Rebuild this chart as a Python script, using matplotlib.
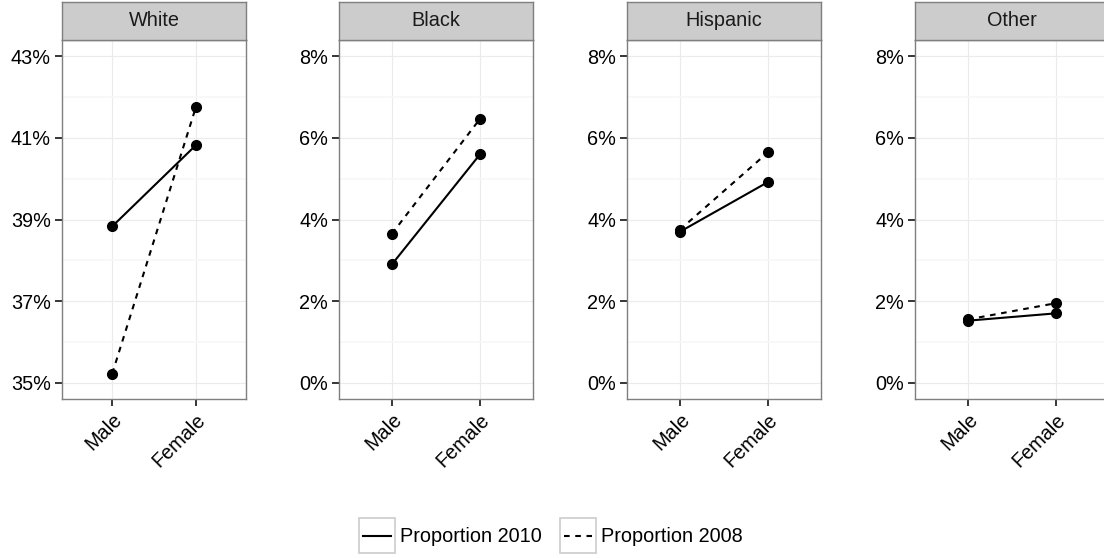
import matplotlib.pyplot as plt
from matplotlib.lines import Line2D
from matplotlib.patches import Rectangle
from matplotlib.ticker import FuncFormatter, MultipleLocator

plt.rcParams['font.family'] = ['Liberation Sans', 'DejaVu Sans']

groups = ["White", "Black", "Hispanic", "Other"]
sexes = ["Male", "Female"]
# values in percent
prop_2010 = {
    "White": [38.83, 40.82],
    "Black": [2.90, 5.60],
    "Hispanic": [3.70, 4.92],
    "Other": [1.52, 1.70],
}
prop_2008 = {
    "White": [35.22, 41.75],
    "Black": [3.65, 6.47],
    "Hispanic": [3.75, 5.65],
    "Other": [1.55, 1.95],
}
yticks = {
    "White": [35, 37, 39, 41, 43],
    "Black": [0, 2, 4, 6, 8],
    "Hispanic": [0, 2, 4, 6, 8],
    "Other": [0, 2, 4, 6, 8],
}

W, H = 1104, 558
fig = plt.figure(figsize=(W / 100, H / 100), dpi=100)

# panel left/right edges in pixels
panel_x = [(62, 246), (339, 533), (627, 821), (915, 1109)]
strip_top, strip_bot, panel_bot = 2, 40, 399
fs = 14.3

for g, (x0, x1) in zip(groups, panel_x):
    ax = fig.add_axes([x0 / W, (H - panel_bot) / H, (x1 - x0) / W,
                       (panel_bot - strip_bot) / H])
    xs = range(len(sexes))
    ax.plot(xs, prop_2010[g], color='black', lw=1.5, ls='-', marker='o',
            ms=7, zorder=3)
    ax.plot(xs, prop_2008[g], color='black', lw=1.5, ls=(0, (2.7, 2.7)),
            marker='o', ms=7, zorder=3)
    ax.set_xlim(-0.6, 1.6)
    t = yticks[g]
    pad = (t[-1] - t[0]) * 0.05
    ax.set_ylim(t[0] - pad, t[-1] + pad)
    ax.set_yticks(t)
    ax.yaxis.set_minor_locator(MultipleLocator(1))
    ax.yaxis.set_major_formatter(FuncFormatter(lambda v, p: f"{v:.0f}%"))
    ax.set_xticks(list(xs))
    ax.set_xticklabels(sexes, rotation=45, ha='right', va='top',
                       rotation_mode='anchor')
    ax.grid(True, which='major', color='#EBEBEB', lw=0.8)
    ax.grid(True, which='minor', axis='y', color='#F7F7F7', lw=1.2)
    ax.set_axisbelow(True)
    ax.tick_params(axis='both', which='major', labelsize=fs, length=5,
                   width=1.1, color='black', labelcolor='black', pad=3)
    ax.tick_params(axis='y', which='minor', length=0)
    for s in ax.spines.values():
        s.set_color('#7F7F7F')
        s.set_linewidth(1.0)

    sax = fig.add_axes([x0 / W, (H - strip_bot) / H, (x1 - x0) / W,
                        (strip_bot - strip_top) / H])
    sax.set_facecolor('#CCCCCC')
    sax.set_xticks([])
    sax.set_yticks([])
    for s in sax.spines.values():
        s.set_color('#7F7F7F')
        s.set_linewidth(1.0)
    sax.text(0.5, 0.5, g, ha='center', va='center', fontsize=fs,
             color='#1A1A1A', transform=sax.transAxes)

handles = [Line2D([], [], color='black', lw=1.5, ls='-'),
           Line2D([], [], color='black', lw=1.5, ls=(0, (2.7, 2.7)))]
leg = fig.legend(handles, ["Proportion 2010", "Proportion 2008"],
                 loc='center', bbox_to_anchor=(553 / W, 1 - 537 / H),
                 ncol=2, frameon=False, fontsize=fs, handlelength=1.4,
                 handletextpad=0.45, columnspacing=1.15)

fig.canvas.draw()
inv = fig.transFigure.inverted()
for h in leg.legend_handles:
    bb = h.get_window_extent(fig.canvas.get_renderer())
    cx = (bb.x0 + bb.x1) / 2
    cy = (bb.y0 + bb.y1) / 2
    (fx0, fy0) = inv.transform((cx - 18, cy - 17.5))
    (fx1, fy1) = inv.transform((cx + 18, cy + 17.5))
    fig.patches.append(Rectangle((fx0, fy0), fx1 - fx0, fy1 - fy0,
                                 transform=fig.transFigure, fill=False,
                                 edgecolor='#CCCCCC', lw=1.2))

fig.savefig('out.png', dpi=100)
